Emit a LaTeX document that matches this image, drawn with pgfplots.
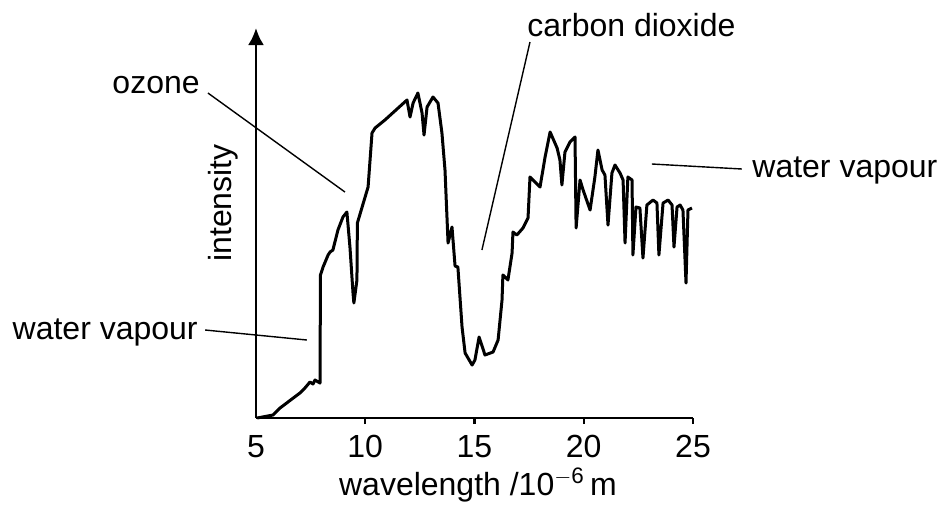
\documentclass[border=0pt]{standalone}
\usepackage{pgfplots}
\pgfplotsset{compat=1.18}
\usepackage{fontspec}
\setmainfont{Liberation Sans}
\usetikzlibrary{arrows.meta}

\begin{document}
\fontsize{16}{19}\selectfont
\begin{tikzpicture}
	\begin{axis}[
		scale only axis,
		width=218.5pt, height=195pt,
		xmin=5, xmax=25, ymin=0, ymax=390,
		axis x line=bottom, axis y line=left,
		x axis line style={-},
		y axis line style={-{Latex[length=8.5pt,width=8pt]}},
		axis line style={line width=1.4pt},
		xtick={10,15,20,25},
		xticklabels={10,15,20,25},
		extra x ticks={5},
		extra x tick labels={5},
		extra x tick style={tick style={draw=none}},
		ytick=\empty,
		tick align=outside,
		major tick length=3pt,
		tick style={line width=1.1pt, black},
		ticklabel style={font=\fontsize{16}{19}\selectfont},
		clip=false,
		]
		% traced spectrum (x in 10^-6 m, y arbitrary)
		\addplot[black, line width=1.5pt, line join=round] coordinates {
			(5.05,0) (5.78,3) (6.10,10) (7.01,25) (7.24,30) (7.47,36) (7.61,34)
			(7.70,38) (7.93,35) (7.95,143) (8.07,151) (8.30,163) (8.39,166)
			(8.52,168) (8.75,188) (8.98,201) (9.16,206) (9.30,171) (9.44,125)
			(9.48,115) (9.62,138) (9.64,195) (10.13,231) (10.31,285) (10.45,290)
			(10.90,298) (11.91,318) (12.05,301) (12.19,315) (12.41,325) (12.60,305)
			(12.69,283) (12.83,311) (13.10,321) (13.33,315) (13.51,285) (13.65,248)
			(13.79,175) (13.97,191) (14.11,152) (14.24,151) (14.43,91) (14.57,65)
			(14.89,53) (15.02,58) (15.21,81) (15.48,63) (15.85,66) (16.08,78)
			(16.26,118) (16.30,143) (16.53,138) (16.72,165) (16.76,186) (16.94,183)
			(17.22,190) (17.45,200) (17.54,241) (17.77,236) (18.00,231) (18.23,261)
			(18.46,286) (18.78,270) (18.91,258) (19.00,233) (19.14,266) (19.37,276)
			(19.60,281) (19.65,190) (19.83,238) (19.97,228) (20.29,208) (20.51,241)
			(20.65,268) (20.84,248) (20.97,243) (21.11,193) (21.29,245) (21.43,253)
			(21.66,245) (21.80,238) (21.89,175) (22.02,241) (22.21,238) (22.25,163)
			(22.39,211) (22.57,210) (22.71,160) (22.89,213) (23.17,218) (23.35,215)
			(23.44,163) (23.63,215) (23.86,218) (24.04,213) (24.13,171) (24.27,211)
			(24.41,213) (24.54,208) (24.68,135) (24.77,208) (24.95,210)
		};
		% labels and leader lines
		\draw[line width=0.7pt] (axis cs:2.80,325) -- (axis cs:9.07,226);
		\node[anchor=east, inner sep=0pt] at (axis cs:2.44,333) {ozone};
		\draw[line width=0.7pt] (axis cs:17.54,376) -- (axis cs:15.34,168);
		\node[anchor=west, inner sep=0pt] at (axis cs:17.40,393) {carbon dioxide};
		\draw[line width=0.7pt] (axis cs:23.12,254) -- (axis cs:27.24,249);
		\node[anchor=west, inner sep=0pt] at (axis cs:27.70,248) {water vapour};
		\draw[line width=0.7pt] (axis cs:2.67,88) -- (axis cs:7.33,78);
		\node[anchor=east, inner sep=0pt] at (axis cs:2.35,86) {water vapour};
		\node[rotate=90, inner sep=0pt] at (axis cs:3.49,215) {intensity};
		\node[inner sep=0pt] at (axis cs:15.16,-67) {wavelength /10\textsuperscript{$-$6}\,m};
		% page frame
		\path (axis cs:-6.716,-87) rectangle (axis cs:36.487,418);
	\end{axis}
\end{tikzpicture}
\end{document}
